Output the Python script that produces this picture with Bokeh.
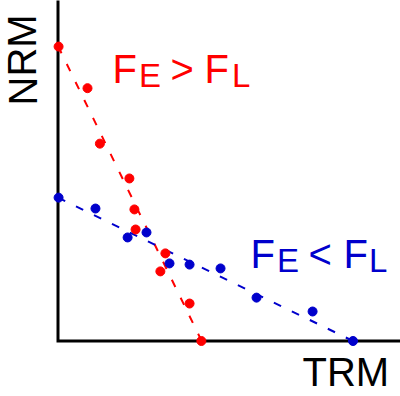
from bokeh.plotting import figure
from bokeh.models import Range1d
from bokeh.core.properties import value
from bokeh.embed import file_html
from bokeh.resources import INLINE

# Data (arbitrary units: TRM on x, NRM on y)
red_trm = [0.002, 0.100, 0.142, 0.242, 0.259, 0.263, 0.364, 0.347, 0.446, 0.486]
red_nrm = [0.998, 0.857, 0.669, 0.551, 0.446, 0.378, 0.297, 0.236, 0.127, 0.000]
red_fit_trm = [0.0, 0.487]
red_fit_nrm = [1.0, 0.0]

blue_trm = [0.002, 0.127, 0.236, 0.300, 0.378, 0.446, 0.551, 0.673, 0.863, 1.000]
blue_nrm = [0.486, 0.449, 0.351, 0.368, 0.263, 0.259, 0.246, 0.147, 0.100, 0.000]
blue_fit_trm = [0.0, 1.0]
blue_fit_nrm = [0.486, 0.0]

RED = "#FF0000"
BLUE = "#0000CC"
FONT = value("Liberation Sans")

S = 295.0
OX, OY = 57.5, 340.5
W, H = 400, 396
SHIFT = 15  # empirical baseline compensation

def dx(pix):
    return (pix - OX) / S

def dy(pix):
    return (OY - pix) / S

p = figure(width=W, height=H, output_backend="svg", toolbar_location=None,
           x_range=Range1d(dx(0), dx(W)), y_range=Range1d(dy(H), dy(0)),
           x_axis_type=None, y_axis_type=None, min_border=0)
p.xgrid.visible = False
p.ygrid.visible = False
p.outline_line_color = None
p.background_fill_color = "white"
p.border_fill_color = "white"

# axes
p.line([0, 0, dx(W + 5)], [dy(-5), 0, 0], line_color="black", line_width=3,
       line_join="miter")

# fit lines
p.line(red_fit_trm, red_fit_nrm, line_color=RED, line_width=2, line_dash="8 12")
p.line(blue_fit_trm, blue_fit_nrm, line_color=BLUE, line_width=2, line_dash="8 12")

# points
p.scatter(red_trm, red_nrm, size=9, color=RED)
p.scatter(blue_trm, blue_nrm, size=9, color=BLUE)

def txt(x, y, s, color, size, angle=0.0):
    p.text([dx(x)], [dy(y)], text=[s], text_color=color, text_font=FONT,
           text_font_size=size, text_align="left", text_baseline="alphabetic",
           angle=angle)

# axis labels
txt(37 - SHIFT, 105, "NRM", "black", "40px", angle=1.5708)
txt(302, 386 - SHIFT, "TRM", "black", "40px")

# red formula
txt(112, 83 - SHIFT, "F", RED, "40px")
txt(138.5, 90 - SHIFT, "E", RED, "33px")
txt(170, 83 - SHIFT, ">", RED, "40px")
txt(204, 83 - SHIFT, "F", RED, "40px")
txt(231.5, 90 - SHIFT, "L", RED, "33px")

# blue formula
txt(250, 268 - SHIFT, "F", BLUE, "40px")
txt(276.5, 275 - SHIFT, "E", BLUE, "33px")
txt(308, 268 - SHIFT, "<", BLUE, "40px")
txt(343, 268 - SHIFT, "F", BLUE, "40px")
txt(368.5, 275 - SHIFT, "L", BLUE, "33px")

open("out.html", "w").write(file_html(p, INLINE))
